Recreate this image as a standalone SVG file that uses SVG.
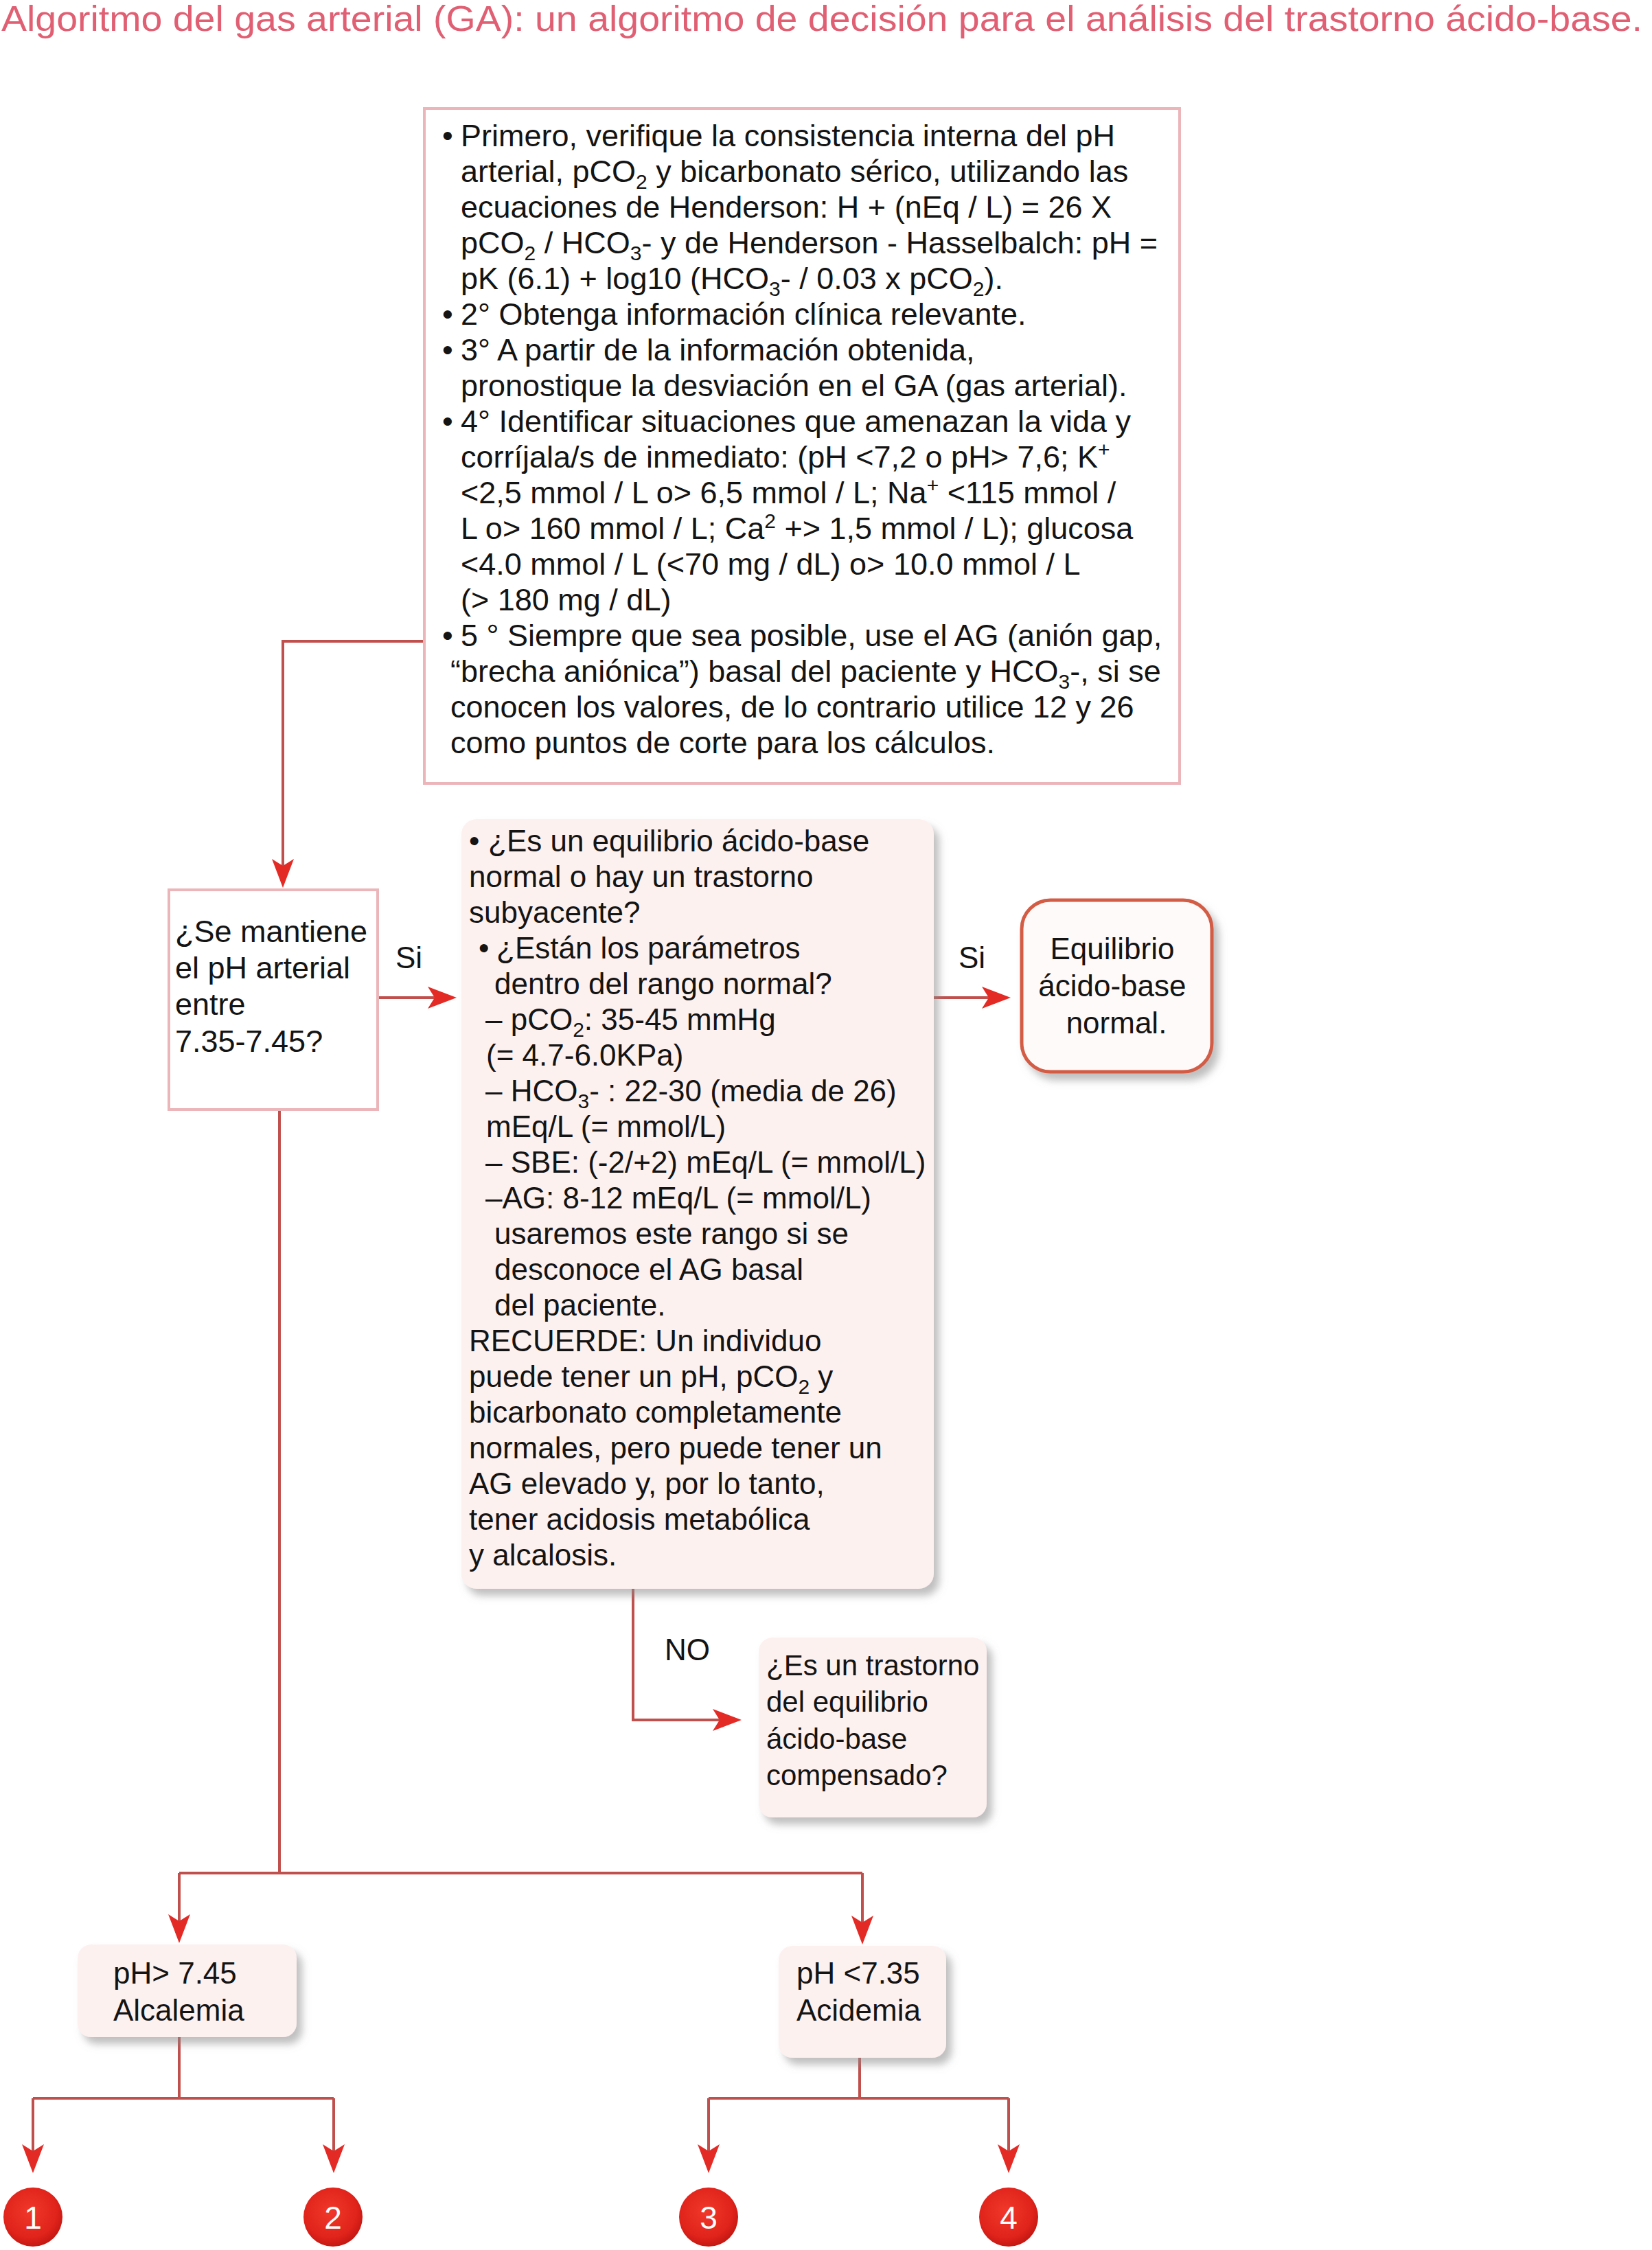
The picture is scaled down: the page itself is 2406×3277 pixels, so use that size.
<svg xmlns="http://www.w3.org/2000/svg" width="2406" height="3277" viewBox="0 0 2406 3277">
<style>
.t{font-family:"Liberation Sans",Arial,Helvetica,sans-serif;font-size:45px;fill:#141414}
.m{font-size:44px}
.s{font-size:30px}
.ti{font-family:"Liberation Sans",Arial,Helvetica,sans-serif;font-size:52px;fill:#e05f73}
.plain{fill:#ffffff;stroke:#ebb5b9;stroke-width:4}
.soft{fill:#fdf1f0;stroke:none;filter:url(#sh)}
.conn{fill:none;stroke:#c0504d;stroke-width:4;stroke-linejoin:miter}
.arr{marker-end:url(#ah)}
.num{font-family:"Liberation Sans",Arial,sans-serif;font-size:46px;fill:#ffffff;text-anchor:middle}
</style>
<defs>
<filter id="sh" x="-10%" y="-10%" width="130%" height="130%">
<feDropShadow dx="8" dy="10" stdDeviation="6" flood-color="#8a8a8a" flood-opacity="0.55"/>
</filter>
<radialGradient id="cg" cx="45%" cy="40%" r="60%">
<stop offset="0" stop-color="#f0382a"/>
<stop offset="0.75" stop-color="#e0231b"/>
<stop offset="1" stop-color="#c41812"/>
</radialGradient>
<marker id="ah" markerUnits="userSpaceOnUse" markerWidth="60" markerHeight="40" viewBox="-32 -20 60 40" refX="0" refY="0" orient="auto" overflow="visible">
<path d="M12,0 L-30,-16 L-20,0 L-30,16 Z" fill="#e42a25"/>
</marker>
</defs>
<rect width="2406" height="3277" fill="#ffffff"/>

<text class="ti" x="2" y="45" textLength="2390" lengthAdjust="spacingAndGlyphs">Algoritmo del gas arterial (GA): un algoritmo de decisión para el análisis del trastorno ácido-base.</text>

<g id="connectors">
<path class="conn arr" d="M617,934 H412 V1281"/>
<path class="conn arr" d="M550,1453 H653"/>
<path class="conn arr" d="M1360,1453 H1460"/>
<path class="conn arr" d="M922,2314 V2505 H1068"/>
<path class="conn" d="M407,1616 V2728"/>
<path class="conn" d="M261,2728 H1256"/>
<path class="conn arr" d="M261,2728 V2818"/>
<path class="conn arr" d="M1256,2728 V2820"/>
<path class="conn" d="M261,2967 V3056"/>
<path class="conn" d="M48,3056 H486"/>
<path class="conn arr" d="M48,3056 V3153"/>
<path class="conn arr" d="M486,3056 V3153"/>
<path class="conn" d="M1252,2997 V3056"/>
<path class="conn" d="M1032,3056 H1469"/>
<path class="conn arr" d="M1032,3056 V3153"/>
<path class="conn arr" d="M1469,3056 V3153"/>
<text class="t m" x="576" y="1410">Si</text>
<text class="t m" x="1396" y="1410">Si</text>
<text class="t m" x="968" y="2418">NO</text>
</g>

<g id="node-steps">
<rect class="plain" x="618" y="158" width="1100" height="983"/>
<text class="t">
<tspan x="644" y="213">•</tspan><tspan x="671" y="213">Primero, verifique la consistencia interna del pH</tspan>
<tspan x="671" y="265">arterial, pCO<tspan class="s" dy="10">2</tspan><tspan dy="-10"> y bicarbonato sérico, utilizando las</tspan></tspan>
<tspan x="671" y="317">ecuaciones de Henderson: H + (nEq / L) = 26 X</tspan>
<tspan x="671" y="369">pCO<tspan class="s" dy="10">2</tspan><tspan dy="-10"> / HCO</tspan><tspan class="s" dy="10">3</tspan><tspan dy="-10">- y de Henderson - Hasselbalch: pH =</tspan></tspan>
<tspan x="671" y="421">pK (6.1) + log10 (HCO<tspan class="s" dy="10">3</tspan><tspan dy="-10">- / 0.03 x pCO</tspan><tspan class="s" dy="10">2</tspan><tspan dy="-10">).</tspan></tspan>
<tspan x="644" y="473">•</tspan><tspan x="671" y="473">2° Obtenga información clínica relevante.</tspan>
<tspan x="644" y="525">•</tspan><tspan x="671" y="525">3° A partir de la información obtenida,</tspan>
<tspan x="671" y="577">pronostique la desviación en el GA (gas arterial).</tspan>
<tspan x="644" y="629">•</tspan><tspan x="671" y="629">4° Identificar situaciones que amenazan la vida y</tspan>
<tspan x="671" y="681">corríjala/s de inmediato: (pH &lt;7,2 o pH&gt; 7,6; K<tspan class="s" dy="-16">+</tspan></tspan>
<tspan x="671" y="733">&lt;2,5 mmol / L o&gt; 6,5 mmol / L; Na<tspan class="s" dy="-16">+</tspan><tspan dy="16"> &lt;115 mmol /</tspan></tspan>
<tspan x="671" y="785">L o&gt; 160 mmol / L; Ca<tspan class="s" dy="-16">2</tspan><tspan dy="16"> +&gt; 1,5 mmol / L); glucosa</tspan></tspan>
<tspan x="671" y="837">&lt;4.0 mmol / L (&lt;70 mg / dL) o&gt; 10.0 mmol / L</tspan>
<tspan x="671" y="889">(&gt; 180 mg / dL)</tspan>
<tspan x="644" y="941">•</tspan><tspan x="671" y="941">5 ° Siempre que sea posible, use el AG (anión gap,</tspan>
<tspan x="656" y="993">“brecha aniónica”) basal del paciente y HCO<tspan class="s" dy="10">3</tspan><tspan dy="-10">-, si se</tspan></tspan>
<tspan x="656" y="1045">conocen los valores, de lo contrario utilice 12 y 26</tspan>
<tspan x="656" y="1097">como puntos de corte para los cálculos.</tspan>
</text>
</g>

<g id="node-ph-range">
<rect class="plain" x="246" y="1296" width="304" height="320"/>
<text class="t">
<tspan x="255" y="1372">¿Se mantiene</tspan>
<tspan x="255" y="1425">el pH arterial</tspan>
<tspan x="255" y="1478">entre</tspan>
<tspan x="255" y="1532">7.35-7.45?</tspan>
</text>
</g>

<g id="node-normal-check">
<rect class="soft" x="672" y="1193" width="688" height="1121" rx="22"/>
<text class="t m">
<tspan x="683" y="1240">•</tspan><tspan x="711" y="1240">¿Es un equilibrio ácido-base</tspan>
<tspan x="683" y="1292">normal o hay un trastorno</tspan>
<tspan x="683" y="1344">subyacente?</tspan>
<tspan x="697" y="1396">•</tspan><tspan x="723" y="1396">¿Están los parámetros</tspan>
<tspan x="720" y="1448">dentro del rango normal?</tspan>
<tspan x="707" y="1500">– pCO<tspan class="s" dy="10">2</tspan><tspan dy="-10">: 35-45 mmHg</tspan></tspan>
<tspan x="708" y="1552">(= 4.7-6.0KPa)</tspan>
<tspan x="707" y="1604">– HCO<tspan class="s" dy="10">3</tspan><tspan dy="-10">- : 22-30 (media de 26)</tspan></tspan>
<tspan x="708" y="1656">mEq/L (= mmol/L)</tspan>
<tspan x="707" y="1708">– SBE: (-2/+2) mEq/L (= mmol/L)</tspan>
<tspan x="707" y="1760">–AG: 8-12 mEq/L (= mmol/L)</tspan>
<tspan x="720" y="1812">usaremos este rango si se</tspan>
<tspan x="720" y="1864">desconoce el AG basal</tspan>
<tspan x="720" y="1916">del paciente.</tspan>
<tspan x="683" y="1968">RECUERDE: Un individuo</tspan>
<tspan x="683" y="2020">puede tener un pH, pCO<tspan class="s" dy="10">2</tspan><tspan dy="-10"> y</tspan></tspan>
<tspan x="683" y="2072">bicarbonato completamente</tspan>
<tspan x="683" y="2124">normales, pero puede tener un</tspan>
<tspan x="683" y="2176">AG elevado y, por lo tanto,</tspan>
<tspan x="683" y="2228">tener acidosis metabólica</tspan>
<tspan x="683" y="2280">y alcalosis.</tspan>
</text>
</g>

<g id="node-equilibrio">
<rect x="1488" y="1311" width="277" height="250" rx="42" fill="#fffafa" stroke="#d35c45" stroke-width="5" filter="url(#sh)"/>
<text class="t m" text-anchor="middle">
<tspan x="1626" y="1397">Equilibrio</tspan>
<tspan x="1626" y="1451">ácido-base</tspan>
<tspan x="1626" y="1505">normal.</tspan>
</text>
</g>

<g id="node-compensado">
<rect class="soft" x="1105" y="2385" width="332" height="262" rx="20"/>
<text class="t" style="font-size:42px">
<tspan x="1116" y="2440">¿Es un trastorno</tspan>
<tspan x="1116" y="2493">del equilibrio</tspan>
<tspan x="1116" y="2547">ácido-base</tspan>
<tspan x="1116" y="2600">compensado?</tspan>
</text>
</g>

<g id="node-alcalemia">
<rect class="soft" x="113" y="2832" width="319" height="135" rx="20"/>
<text class="t m">
<tspan x="165" y="2889">pH&gt; 7.45</tspan>
<tspan x="165" y="2943">Alcalemia</tspan>
</text>
</g>

<g id="node-acidemia">
<rect class="soft" x="1134" y="2834" width="244" height="163" rx="20"/>
<text class="t m">
<tspan x="1160" y="2889">pH &lt;7.35</tspan>
<tspan x="1160" y="2943">Acidemia</tspan>
</text>
</g>

<g id="node-1"><circle cx="48" cy="3229" r="43" fill="url(#cg)"/><text class="num" x="48" y="3246">1</text></g>
<g id="node-2"><circle cx="485" cy="3229" r="43" fill="url(#cg)"/><text class="num" x="485" y="3246">2</text></g>
<g id="node-3"><circle cx="1032" cy="3229" r="43" fill="url(#cg)"/><text class="num" x="1032" y="3246">3</text></g>
<g id="node-4"><circle cx="1469" cy="3229" r="43" fill="url(#cg)"/><text class="num" x="1469" y="3246">4</text></g>
</svg>
